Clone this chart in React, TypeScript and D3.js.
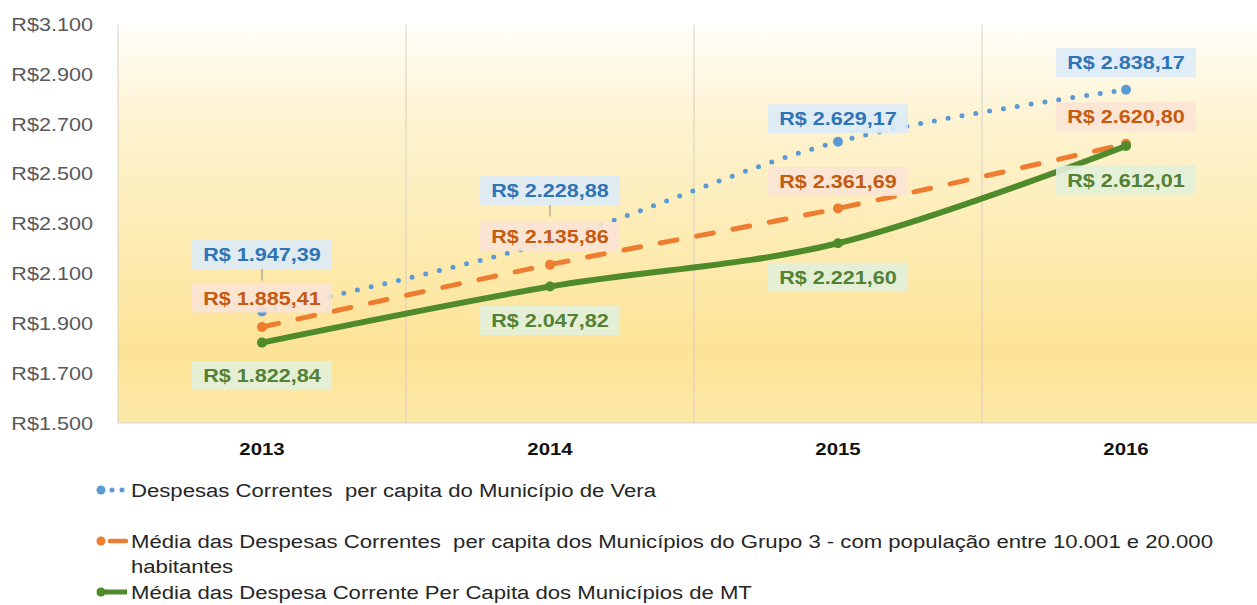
import React from "react";
import * as d3 from "d3";

const years = ["2013", "2014", "2015", "2016"];
const vera = [1947.39, 2228.88, 2629.17, 2838.17];
const grupo3 = [1885.41, 2135.86, 2361.69, 2620.8];
const mediaMT = [1822.84, 2047.82, 2221.6, 2612.01];
const yTicks = [1500, 1700, 1900, 2100, 2300, 2500, 2700, 2900, 3100];
const legendLabels = [
  "Despesas Correntes  per capita do Município de Vera",
  "Média das Despesas Correntes  per capita dos Municípios do Grupo 3 - com população entre 10.001 e 20.000",
  "habitantes",
  "Média das Despesa Corrente Per Capita dos Municípios de MT",
];

// layout-only: vertical offsets of data labels relative to their points
const veraDy = [-57, -51, -23, -27];
const grupoDy = [-29, -28, -27, -27];
const mtDy = [33, 34, 34, 34];

const W = 1257;
const H = 605;
const left = 118;
const right = 1270;
const top = 24.5;
const bottom = 423;
const SX = 1.2;

const locTick = d3.formatLocale({ decimal: ",", thousands: ".", grouping: [3], currency: ["R$", ""] });
const locLab = d3.formatLocale({ decimal: ",", thousands: ".", grouping: [3], currency: ["R$ ", ""] });
const fTick = locTick.format("$,.0f");
const fLab = locLab.format("$,.2f");

const FONT = "'Liberation Sans', Arial, sans-serif";

export default function App() {
  const x = d3.scaleBand<string>().domain(years).range([left, right]);
  const cx = (d: string) => (x(d) as number) + x.bandwidth() / 2;
  const y = d3.scaleLinear().domain([1500, 3100]).range([bottom, top]);

  const line = d3
    .line<number>()
    .x((_, i) => cx(years[i]))
    .y((v) => y(v))
    .curve(d3.curveCardinal.tension(0));

  const series = [
    { vals: vera, color: "#5B9BD5", text: "#2E75B6", box: "#DDEBF7", dash: "0 14", width: 5, dy: veraDy },
    { vals: grupo3, color: "#ED7D31", text: "#C55A11", box: "#FBE4D5", dash: "17 20", width: 5, dy: grupoDy },
    { vals: mediaMT, color: "#4F8A2B", text: "#538135", box: "#E2EFDA", dash: "none", width: 6, dy: mtDy },
  ];

  return (
    <svg
      width={W}
      height={H}
      style={{ position: "absolute", left: 0, top: 0, background: "#fff", fontFamily: FONT }}
    >
      <defs>
        <linearGradient id="bg" x1="0" y1="0" x2="0" y2="1">
          <stop offset="0%" stopColor="#FFFEF9" />
          <stop offset="25%" stopColor="#FEF3D0" />
          <stop offset="55%" stopColor="#FDEBB2" />
          <stop offset="82%" stopColor="#FDE396" />
          <stop offset="100%" stopColor="#FDE8A8" />
        </linearGradient>
      </defs>
      <rect x={left} y={top} width={right - left} height={bottom - top} fill="url(#bg)" />
      {/* vertical grid */}
      {years.map((d) => (
        <line key={d} x1={x(d)} x2={x(d)} y1={top} y2={bottom} stroke="#D4D0C4" strokeWidth={1} />
      ))}
      <line x1={left} x2={right} y1={bottom} y2={bottom} stroke="#D9D9D9" strokeWidth={1} />

      {/* y ticks */}
      {yTicks.map((t) => (
        <g key={t} transform={`translate(93,${y(t) + 6.5}) scale(${SX},1)`}>
          <text textAnchor="end" fontSize={18} fill="#595959">
            {fTick(t)}
          </text>
        </g>
      ))}
      {/* x labels */}
      {years.map((d) => (
        <g key={d} transform={`translate(${cx(d)},${455}) scale(${SX},1)`}>
          <text textAnchor="middle" fontSize={17} fontWeight="bold" fill="#111">
            {d}
          </text>
        </g>
      ))}

      {/* series lines */}
      {series.map((s, k) => (
        <g key={k}>
          <path
            d={line(s.vals) as string}
            fill="none"
            stroke={s.color}
            strokeWidth={s.width}
            strokeDasharray={s.dash}
            strokeLinecap="round"
          />
          {s.vals.map((v, i) => (
            <circle key={i} cx={cx(years[i])} cy={y(v)} r={5} fill={s.color} />
          ))}
        </g>
      ))}

      {/* leader lines for labels far from their point */}
      {vera.map((v, i) =>
        veraDy[i] < -40 ? (
          <line
            key={i}
            x1={cx(years[i])}
            x2={cx(years[i])}
            y1={y(v) + veraDy[i] + 14}
            y2={y(v) + veraDy[i] + 26}
            stroke="#8C8C8C"
            strokeWidth={1}
          />
        ) : null
      )}

      {/* data labels */}
      {series.map((s, k) => (
        <g key={k}>
          {s.vals.map((v, i) => {
            const px = cx(years[i]);
            const py = y(v) + s.dy[i];
            return (
              <g key={i}>
                <rect x={px - 70} y={py - 14.5} width={140} height={29} fill={s.box} opacity={0.9} />
                <g transform={`translate(${px},${py + 6.5}) scale(${SX},1)`}>
                  <text textAnchor="middle" fontSize={18} fontWeight="bold" fill={s.text}>
                    {fLab(v)}
                  </text>
                </g>
              </g>
            );
          })}
        </g>
      ))}

      {/* legend */}
      <g>
        <circle cx={101} cy={490} r={4.5} fill={series[0].color} />
        <line x1={112} x2={123} y1={490} y2={490} stroke={series[0].color} strokeWidth={5} strokeDasharray="0 10" strokeLinecap="round" />
        <circle cx={101} cy={541} r={4.5} fill={series[1].color} />
        <line x1={110} x2={126} y1={541} y2={541} stroke={series[1].color} strokeWidth={4.5} strokeLinecap="round" />
        <line x1={97} x2={127} y1={592} y2={592} stroke={series[2].color} strokeWidth={5} />
        <circle cx={101} cy={592} r={4.5} fill={series[2].color} />
      </g>
      {[
        { yy: 490, text: [legendLabels[0]] },
        { yy: 541, text: [legendLabels[1], legendLabels[2]] },
        { yy: 592, text: [legendLabels[3]] },
      ].map((it, k) => (
        <g key={k}>
          {it.text.map((t, j) => (
            <g key={j} transform={`translate(131,${it.yy + 6.5 + j * 25}) scale(1.23,1)`}>
              <text fontSize={18} fill="#262626" style={{ whiteSpace: "pre" }}>
                {t}
              </text>
            </g>
          ))}
        </g>
      ))}
    </svg>
  );
}
